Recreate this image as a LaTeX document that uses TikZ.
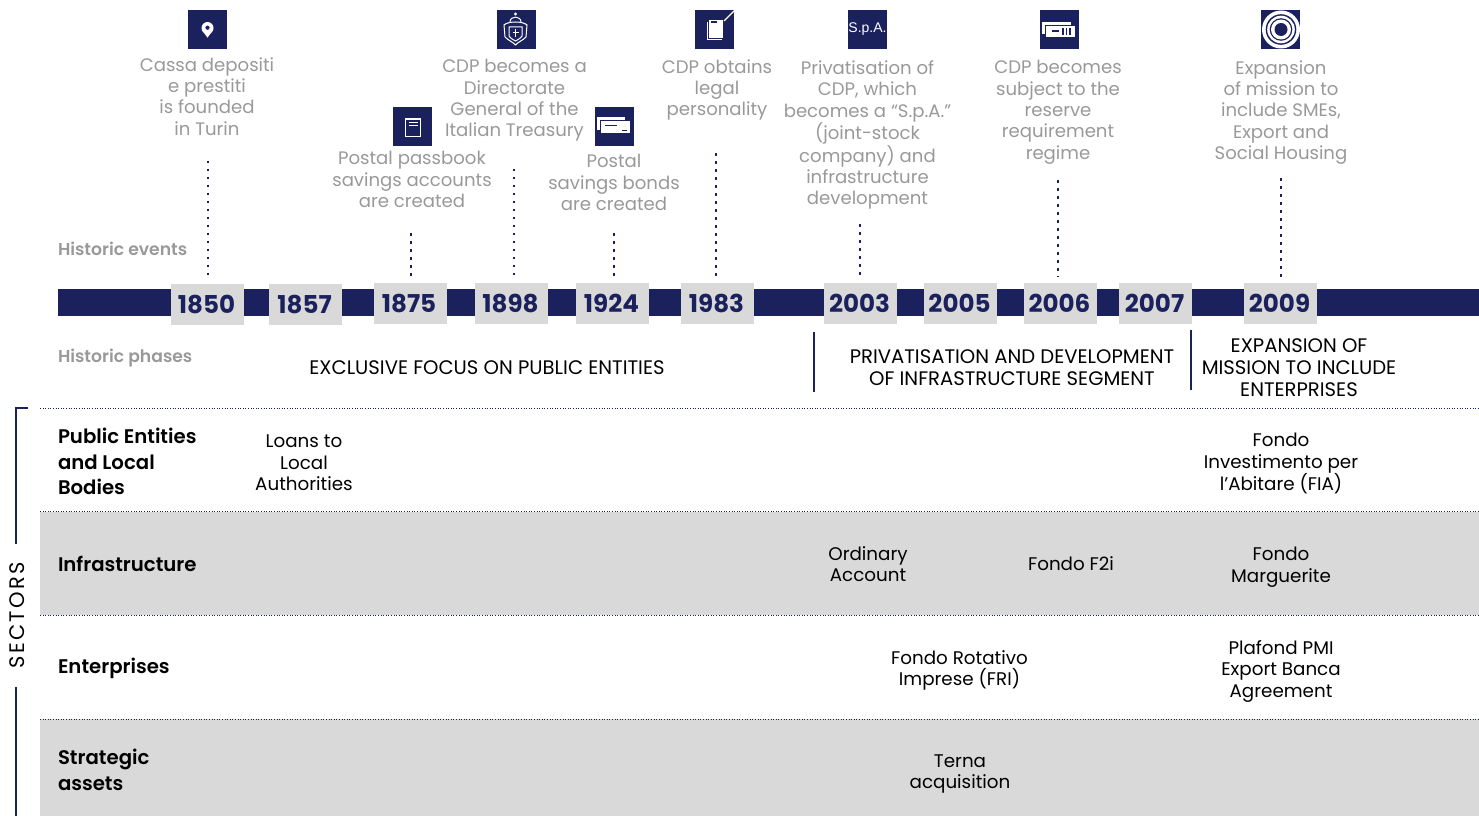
\documentclass[tikz,border=0pt]{standalone}
\usepackage{fontspec}
\setmainfont{Poppins}
\newfontfamily\semi{Poppins SemiBold}
\newfontfamily\arialish{Liberation Sans}
\definecolor{navy}{HTML}{1B215C}
\definecolor{band}{HTML}{D9D9D9}
\definecolor{evgrey}{HTML}{999999}
\tikzset{
 every node/.style={inner sep=0pt,outer sep=0pt},
 event/.style={text=evgrey,align=center,font=\fontsize{18.1}{21.35}\selectfont,anchor=north},
 body/.style={text=black,align=center,font=\fontsize{18.3}{21.5}\selectfont},
 caps/.style={text=black,align=center,font=\fontsize{19.6}{22}\selectfont},
 sector/.style={text=black,align=left,anchor=west,font=\fontsize{19.7}{25.5}\selectfont\semi},
 side/.style={text=evgrey,anchor=west,font=\fontsize{17.2}{20}\selectfont\semi},
 yearbox/.style={fill=band,minimum width=73pt,minimum height=41pt,text=navy,font=\fontsize{24.6}{28}\selectfont\bfseries},
 iconbox/.style={fill=navy,minimum width=39pt,minimum height=39pt},
 stem/.style={draw=navy,line width=2.6pt,dash pattern=on 2.6pt off 5.4pt},
 rowline/.style={draw=navy,line width=0.8pt,dash pattern=on 1pt off 1.6pt},
 rule/.style={draw=navy,line width=1.1pt},
 ic/.style={draw=white,line width=1.2pt},
}
\begin{document}
\begin{tikzpicture}[x=1pt,y=-1pt]
\useasboundingbox (0,0) rectangle (1479,816);
% bands
\fill[band] (40,512) rectangle (1479,615);
\fill[band] (40,719) rectangle (1479,816);
\draw[rowline] (40,408) -- (1479,408);
\draw[rowline] (40,511.5) -- (1479,511.5);
\draw[rowline] (40,615.5) -- (1479,615.5);
\draw[rowline] (40,719) -- (1479,719);
% bar
\fill[navy] (58,289) rectangle (1479,316);
\node[yearbox] (y1850) at (207.5,304.5) {1850\kern2pt};
\node[yearbox] (y1857) at (305.5,304.5) {1857\kern2pt};
\node[yearbox] (y1875) at (410.5,303.5) {1875\kern3pt};
\node[yearbox] (y1898) at (511.5,303.5) {1898\kern2pt};
\node[yearbox] (y1924) at (612.5,303.5) {1924\kern2pt};
\node[yearbox] (y1983) at (717.5,303.5) {1983\kern2pt};
\node[yearbox] (y2003) at (860.5,303.5) {2003\kern2pt};
\node[yearbox] (y2005) at (960.5,303.5) {2005\kern2pt};
\node[yearbox] (y2006) at (1060.5,303.5) {2006\kern2pt};
\node[yearbox] (y2007) at (1155.5,303.5) {2007\kern2pt};
\node[yearbox] (y2009) at (1280.5,303.5) {2009\kern2pt};
% icons
\node[iconbox] (i1850) at (207.5,29.5) {};
\node[iconbox] (i1875) at (412.5,126.5) {};
\node[iconbox] (i1898) at (516.5,29.5) {};
\node[iconbox] (i1924) at (614.5,126.5) {};
\node[iconbox] (i1983) at (714.5,29.5) {};
\node[iconbox,text=white,font=\fontsize{14}{15}\selectfont\arialish] (i2003) at (867.5,29.5) {\raisebox{2pt}{S.p.A.}};
\node[iconbox] (i2006) at (1059.5,29.5) {};
\node[iconbox] (i2009) at (1280.5,29.5) {};
% events
\node[event] (e1850) at (207,57.5) {Cassa depositi\\e prestiti\\is founded\\in Turin};
\node[event] (e1875) at (412,151.5) {Postal passbook\\savings accounts\\are created};
\node[event] (e1898) at (514.5,59.5) {CDP becomes a\\Directorate\\General of the\\Italian Treasury};
\node[event] (e1924) at (614,154.5) {Postal\\savings bonds\\are created};
\node[event] (e1983) at (717,59.5) {CDP obtains\\legal\\personality};
\node[event] (e2003) at (867.5,60.5) {Privatisation of\\CDP, which\\becomes a “S.p.A.”\\(joint-stock\\company) and\\infrastructure\\development};
\node[event] (e2006) at (1058,60.5) {CDP becomes\\subject to the\\reserve\\requirement\\regime};
\node[event] (e2009) at (1281,60.5) {Expansion\\of mission to\\include SMEs,\\Export and\\Social Housing};
% stems
\coordinate (s1850) at (208,160.5); \coordinate (s1875) at (411,233);
\coordinate (s1898) at (514,168.5); \coordinate (s1924) at (614,233);
\coordinate (s1983) at (716,153); \coordinate (s2003) at (860,224);
\coordinate (s2006) at (1058,180); \coordinate (s2009) at (1281,178);
\foreach \n in {1850,1875,1898,1924,1983,2003,2006,2009}
 \draw[stem] (s\n) -- (s\n |- 0,277);
% side labels
\node[side] (he) at (58,249) {Historic events};
\node[side] (hp) at (58,358.5) {Historic phases};
% phases
\node[caps] (p1) at (487,368) {EXCLUSIVE FOCUS ON PUBLIC ENTITIES};
\node[caps] (p2) at (1012,367.5) {PRIVATISATION AND DEVELOPMENT\\OF INFRASTRUCTURE SEGMENT};
\node[caps] (p3) at (1299,367.5) {EXPANSION OF\\MISSION TO INCLUDE\\ENTERPRISES};
\draw[rule] (814,332) -- (814,392);
\draw[rule] (1191,330) -- (1191,390);
% sectors
\node[sector] (s1) at (58,461.5) {Public Entities\\and Local\\Bodies};
\node[sector] (s2) at (58,564) {Infrastructure};
\node[sector] (s3) at (58,668.5) {Enterprises};
\node[sector] (s4) at (58,770) {Strategic\\assets};
% cells
\node[body] (c1) at (304,462.7) {Loans to\\Local\\Authorities};
\node[body] (c2) at (1281,463.7) {Fondo\\Investimento per\\l’Abitare (FIA)};
\node[body] (c3) at (868,564) {Ordinary\\Account};
\node[body] (c4) at (1071,564) {Fondo F2i};
\node[body] (c5) at (1281,567) {Fondo\\Marguerite};
\node[body] (c6) at (959.5,670.2) {Fondo Rotativo\\Imprese (FRI)};
\node[body] (c7) at (1281,671) {Plafond PMI\\Export Banca\\Agreement};
\node[body] (c8) at (960,774) {Terna\\acquisition};
% sectors bracket
\node[rotate=90,text=black,font=\fontsize{21}{22}\selectfont\addfontfeatures{LetterSpace=11}] (sec) at (17,615.5) {SECTORS};
\draw[rule] (28,408) -- (16,408) -- (16,544);
\draw[rule] (16,687) -- (16,816);
% pin
\fill[white] (207.5,28) circle (6);
\fill[white] (201.9,30) -- (207.5,37.7) -- (213.1,30) -- cycle;
\fill[navy] (207.5,27.7) circle (2.1);
% passbook
\draw[ic] (405.5,119) rectangle (420.5,136.5);
\draw[ic,line width=.8pt] (408.5,122.5) -- (417.5,122.5) (408.5,125.5) -- (417.5,125.5);
% crest
\fill[white] (515.5,14) circle (1.6);
\draw[ic,line width=1pt] (510,22) .. controls (510,15.5) and (521,15.5) .. (521,22);
\draw[ic,line width=1pt] (504,25) .. controls (508,21) and (523,21) .. (527,25) -- (526,37) .. controls (522,41) and (518,42) .. (515.5,45) .. controls (513,42) and (509,41) .. (505,37) -- cycle;
\draw[ic,line width=1pt] (509,27) -- (522,27) -- (522,36) .. controls (520,39) and (517,40) .. (515.5,41) .. controls (514,40) and (511,39) .. (509,36) -- cycle;
\draw[ic,line width=1pt] (515.5,29.5) -- (515.5,37.5) (512.5,32.5) -- (518.5,32.5);
% bonds
\fill[white] (597.3,117.3) rectangle (625,130);
\fill[navy] (600,119.8) rectangle (630,134.2);
\fill[white] (601.2,121) rectangle (630,133);
\draw[navy,line width=1pt] (605,125) -- (617,125) (622,130) -- (627,130);
% 1983 book
\fill[white] (709,20) rectangle (723,38);
\fill[navy] (710.5,21.5) rectangle (717,23);
\draw[ic,line width=.8pt] (707.4,22) -- (707.4,39.5) -- (722,39.5);
\draw[ic] (724,21) -- (734.5,10.5);
% 2006
\fill[white] (1042,22) rectangle (1071,34);
\fill[navy] (1044.8,24.8) rectangle (1075,38.2);
\fill[white] (1046,26) rectangle (1075,37);
\draw[navy,line width=1.2pt] (1052,31) -- (1059,31) (1063,28) -- (1063,35) (1066.5,28) -- (1066.5,35) (1070,28) -- (1070,35);
% target
\fill[white] (1281,29.5) circle (19);
\fill[navy] (1281,29.5) circle (15.3);
\fill[white] (1281,29.5) circle (13.8);
\fill[navy] (1281,29.5) circle (11.3);
\fill[white] (1281,29.5) circle (10);
\fill[navy] (1281,29.5) circle (6.5);
\end{tikzpicture}
\end{document}
